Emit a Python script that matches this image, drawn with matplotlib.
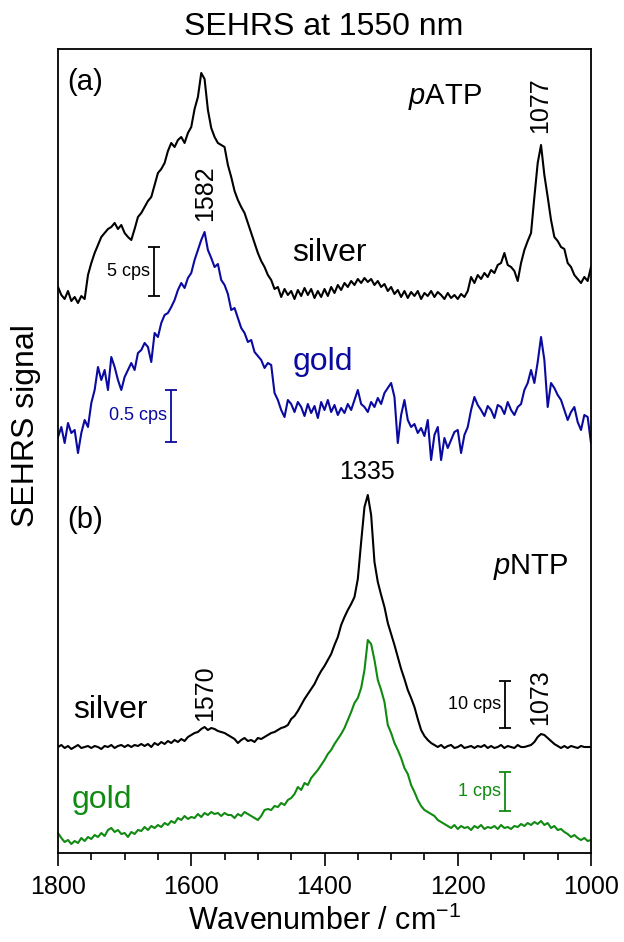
import numpy as np
import matplotlib
matplotlib.use('Agg')
import matplotlib.pyplot as plt

plt.rcParams['font.family'] = ['Liberation Sans', 'DejaVu Sans']
plt.rcParams['mathtext.fontset'] = 'custom'
plt.rcParams['mathtext.rm'] = 'Liberation Sans'
plt.rcParams['mathtext.it'] = 'Liberation Sans:italic'

# Wavenumber grid, 1800 -> 1000 cm-1 in 5 cm-1 steps
wavenumber = np.arange(1800, 999, -5)

# Intensities (arbitrary display units, above each spectrum's own baseline)
patp_silver = [
    6, -2, -6, 2, -8, -4, -10, -3, -6, 18,
    30, 40, 48, 56, 60, 64, 66, 70, 64, 68,
    60, 56, 53, 64, 76, 80, 86, 92, 96, 108,
    120, 124, 130, 142, 150, 146, 153, 156, 150, 160,
    166, 184, 196, 220, 214, 183, 165, 156, 150, 148,
    146, 128, 116, 102, 93, 86, 80, 70, 60, 50,
    40, 32, 26, 18, 13, 4, 6, -4, 4, -2,
    2, -6, 3, -3, 5, -2, 4, -5, 2, -4,
    4, -3, 6, 0, 8, 3, 10, 6, 12, 8,
    14, 10, 15, 11, 14, 8, 12, 6, 9, 2,
    6, -1, 3, -4, 2, -5, 1, -3, 2, -6,
    0, -3, 2, -4, 1, -2, -6, 0, -5, -2,
    -6, -1, -4, 2, 16, 10, 18, 14, 20, 16,
    23, 20, 28, 30, 40, 28, 26, 22, 12, 30,
    43, 52, 60, 96, 130, 148, 118, 96, 73, 56,
    52, 46, 44, 30, 26, 18, 14, 10, 16, 12,
    26]

patp_gold = [
    3, 13, -3, 17, 7, 10, -13, 7, 20, 13,
    37, 50, 73, 60, 70, 50, 83, 73, 60, 50,
    63, 70, 77, 70, 87, 90, 97, 93, 78, 107,
    103, 117, 125, 127, 133, 140, 150, 157, 152, 162,
    167, 180, 190, 200, 208, 190, 182, 173, 176, 160,
    155, 146, 130, 132, 122, 112, 107, 98, 100, 88,
    84, 80, 72, 77, 75, 47, 40, 30, 23, 40,
    36, 28, 38, 33, 24, 36, 27, 34, 22, 38,
    30, 40, 28, 35, 25, 32, 27, 36, 30, 40,
    50, 36, 33, 28, 38, 33, 42, 36, 47, 52,
    57, 43, -3, 25, 40, 20, 13, 16, 7, 12,
    4, 20, -20, 5, 13, -20, 2, -8, 0, 8,
    10, -13, 5, 13, 30, 43, 35, 30, 24, 34,
    30, 22, 35, 33, 26, 38, 30, 25, 33, 36,
    50, 57, 70, 57, 78, 103, 80, 33, 57, 52,
    45, 40, 30, 20, 28, 33, 18, 10, 25, 23,
    -3]

pntp_silver = [
    0, 2, -1, 1, -2, 0, 2, -1, 0, 1,
    -1, 1, 0, -2, 1, 0, 2, -1, 1, 2,
    0, 2, 0, 2, 1, 3, 1, 3, 0, 4,
    2, 5, 3, 6, 4, 7, 5, 8, 6, 10,
    12, 14, 15, 18, 20, 17, 19, 18, 16, 15,
    14, 12, 10, 8, 4, 7, 9, 6, 7, 5,
    9, 8, 10, 12, 14, 15, 17, 19, 20, 22,
    28, 31, 36, 42, 48, 53, 58, 63, 70, 76,
    81, 87, 93, 102, 110, 122, 130, 137, 143, 150,
    168, 205, 240, 252, 232, 185, 165, 152, 140, 124,
    113, 102, 90, 78, 68, 57, 49, 40, 28, 17,
    11, 7, 4, 2, 0, 2, -1, 1, 2, -1,
    0, 2, -1, 0, 1, -1, 1, 0, 2, -1,
    1, -1, 0, 2, -1, 1, 0, -1, 2, 0,
    0, 1, 2, 5, 10, 13, 12, 9, 6, 3,
    1, -1, 1, -1, 1, 0, -1, 1, 0, 0,
    0]

pntp_gold = [
    7, 2, -2, 0, -4, -1, -3, 2, -1, 3,
    1, 5, 3, 7, 4, 10, 12, 8, 10, 6,
    7, 3, 8, 6, 10, 9, 13, 10, 14, 12,
    15, 13, 17, 15, 19, 17, 22, 20, 24, 21,
    23, 22, 26, 23, 27, 25, 28, 26, 27, 24,
    27, 25, 25, 22, 26, 24, 28, 26, 24, 22,
    20, 24, 30, 31, 30, 34, 33, 37, 35, 40,
    42, 46, 53, 50, 57, 55, 62, 66, 70, 75,
    80, 86, 90, 96, 101, 106, 112, 120, 128, 137,
    142, 152, 170, 200, 196, 180, 160, 150, 138, 115,
    107, 97, 90, 82, 72, 66, 55, 48, 40, 34,
    30, 28, 26, 24, 20, 18, 16, 14, 12, 15,
    11, 14, 12, 13, 10, 14, 12, 15, 11, 13,
    12, 14, 11, 15, 12, 13, 11, 14, 13, 16,
    14, 17, 15, 18, 16, 19, 15, 17, 12, 14,
    10, 11, 8, 6, 3, 5, 2, 0, 2, -1,
    0]

# stacking offsets and display scale (units per cps)
offsets = {'patp_silver': 560, 'patp_gold': 413, 'pntp_silver': 106, 'pntp_gold': 13}
units_per_cps = {'patp_silver': 9.8, 'patp_gold': 104, 'pntp_silver': 4.7, 'pntp_gold': 39}

BLACK = 'black'
BLUE = '#0a0aa0'
GREEN = '#118a11'

fig = plt.figure(figsize=(6.24, 9.42), dpi=100)
ax = fig.add_axes([58 / 624, 89 / 942, 533 / 624, 804 / 942])

ax.plot(wavenumber, np.array(patp_silver) + offsets['patp_silver'], color=BLACK, lw=1.5)
ax.plot(wavenumber, np.array(patp_gold) + offsets['patp_gold'], color=BLUE, lw=1.5)
ax.plot(wavenumber, np.array(pntp_silver) + offsets['pntp_silver'], color=BLACK, lw=1.5)
ax.plot(wavenumber, np.array(pntp_gold) + offsets['pntp_gold'], color=GREEN, lw=1.5)

ax.set_xlim(1800, 1000)
ax.set_ylim(0, 804)
ax.set_yticks([])
ax.set_xticks([1800, 1600, 1400, 1200, 1000])
ax.set_xticks(np.arange(1750, 1000, -50), minor=True)
ax.tick_params(axis='x', which='major', direction='out', length=9.5, width=1.2,
               labelsize=18, pad=6)
ax.tick_params(axis='x', which='minor', direction='out', length=5, width=1.2)
for sp in ax.spines.values():
    sp.set_linewidth(1.3)

ax.set_xlabel('Wavenumber / cm$^{-1}$', fontsize=22, labelpad=5)
fig.text(26 / 624, 1 - 426 / 942, 'SEHRS signal', rotation=90, fontsize=23,
         ha='center', va='center')
fig.text(324 / 624, 1 - 27 / 942, 'SEHRS at 1550 nm', fontsize=23,
         ha='center', va='center')

# scale bars
def scale_bar(x, y0, key, cps, label, color):
    h = units_per_cps[key] * cps
    ax.errorbar([x], [y0 + h / 2], yerr=[h / 2], fmt='none', ecolor=color,
                elinewidth=1.3, capsize=4.5, capthick=1.3)
    ax.text(x + 6, y0 + h / 2, label, fontsize=13, color=color, ha='right', va='center')

scale_bar(1656, 557, 'patp_silver', 5, '5 cps', BLACK)
scale_bar(1630, 411, 'patp_gold', 0.5, '0.5 cps', BLUE)
scale_bar(1129, 125, 'pntp_silver', 10, '10 cps', BLACK)
scale_bar(1129, 42, 'pntp_gold', 1, '1 cps', GREEN)

# labels
ax.text(1759, 771, '(a)', fontsize=21, ha='center', va='center')
ax.text(1759, 333, '(b)', fontsize=21, ha='center', va='center')
ax.text(1219, 756, '$\\mathit{p}$ATP', fontsize=21, ha='center', va='center')
ax.text(1091, 286, '$\\mathit{p}$NTP', fontsize=21, ha='center', va='center')
ax.text(1392, 600, 'silver', fontsize=23, ha='center', va='center', color=BLACK)
ax.text(1402, 491, 'gold', fontsize=23, ha='center', va='center', color=BLUE)
ax.text(1722, 143, 'silver', fontsize=23, ha='center', va='center', color=BLACK)
ax.text(1734, 53, 'gold', fontsize=23, ha='center', va='center', color=GREEN)

# peak positions
ax.text(1579, 660, '1582', fontsize=18, rotation=90, ha='center', va='center')
ax.text(1077, 748, '1077', fontsize=18, rotation=90, ha='center', va='center')
ax.text(1336, 381, '1335', fontsize=18, ha='center', va='center')
ax.text(1579, 160, '1570', fontsize=18, rotation=90, ha='center', va='center')
ax.text(1077, 156, '1073', fontsize=18, rotation=90, ha='center', va='center')

fig.savefig('out.png', dpi=100)
